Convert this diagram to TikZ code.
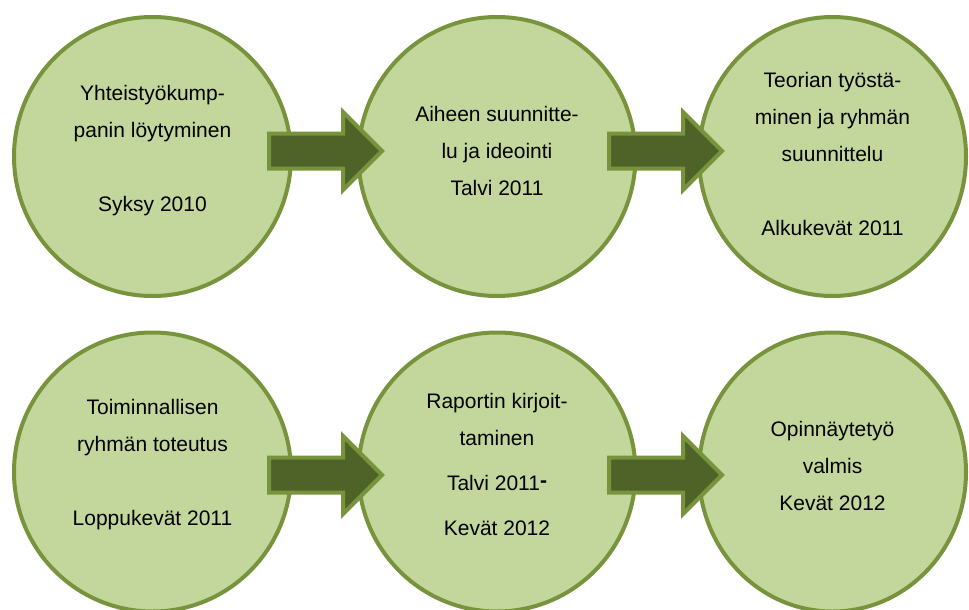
\documentclass[tikz,border=0pt]{standalone}
\usepackage{fontspec}
\setmainfont{Liberation Sans}
\usetikzlibrary{shapes, arrows, positioning}
\definecolor{circfill}{HTML}{C3D69B}
\definecolor{circline}{HTML}{77933C}
\definecolor{arrfill}{HTML}{4F6228}

\begin{document}
\begin{tikzpicture}[x=1pt,y=-1pt]
        \useasboundingbox (0,0) rectangle (969,610);
        \clip (0,0) rectangle (969,610);
        \begin{scope}[every node/.style={draw=circline,line width=4pt,fill=circfill,ellipse,minimum width=277pt,minimum height=279pt}]
          \node (c1) at (152.5,156.5) {};
          \node (c2) at (497,156.5) {};
          \node[minimum width=267pt] (c3) at (832.5,156.5) {};
          \node (c4) at (152.5,472) {};
          \node (c5) at (497,472) {};
          \node[minimum width=267pt] (c6) at (832.5,472) {};
        \end{scope}
        \begin{scope}[every node/.style={single arrow,draw=circline,line width=4pt,fill=arrfill,minimum height=113pt,minimum width=74pt,single arrow head extend=21.5pt,inner ysep=15.5pt,anchor=tail}]
          \node (a1) at (267,151) {};
          \node (a2) at (607,151) {};
          \node (a3) at (267,475) {};
          \node (a4) at (607,475) {};
        \end{scope}
        \begin{scope}[every node/.style={align=center,font=\fontsize{21}{37}\selectfont}]
          \node (t1) at (152.5,151) {Yhteistyökump-\\panin löytyminen\\[37pt]Syksy 2010};
          \node (t2) at (497,151) {Aiheen suunnitte-\\lu ja ideointi\\Talvi 2011};
          \node (t3) at (832.5,154) {Teorian työstä-\\minen ja ryhmän\\suunnittelu\\[37pt]Alkukevät 2011};
          \node (t4) at (152.5,465) {Toiminnallisen\\ryhmän toteutus\\[37pt]Loppukevät 2011};
          \node (t5) at (497,464.5) {Raportin kirjoit-\\taminen\\[8pt]Talvi 2011\raisebox{3pt}{\textbf{-}}\\[8pt]Kevät 2012};
          \node (t6) at (832.5,465.5) {Opinnäytetyö\\valmis\\Kevät 2012};
        \end{scope}
      \end{tikzpicture}
\end{document}
